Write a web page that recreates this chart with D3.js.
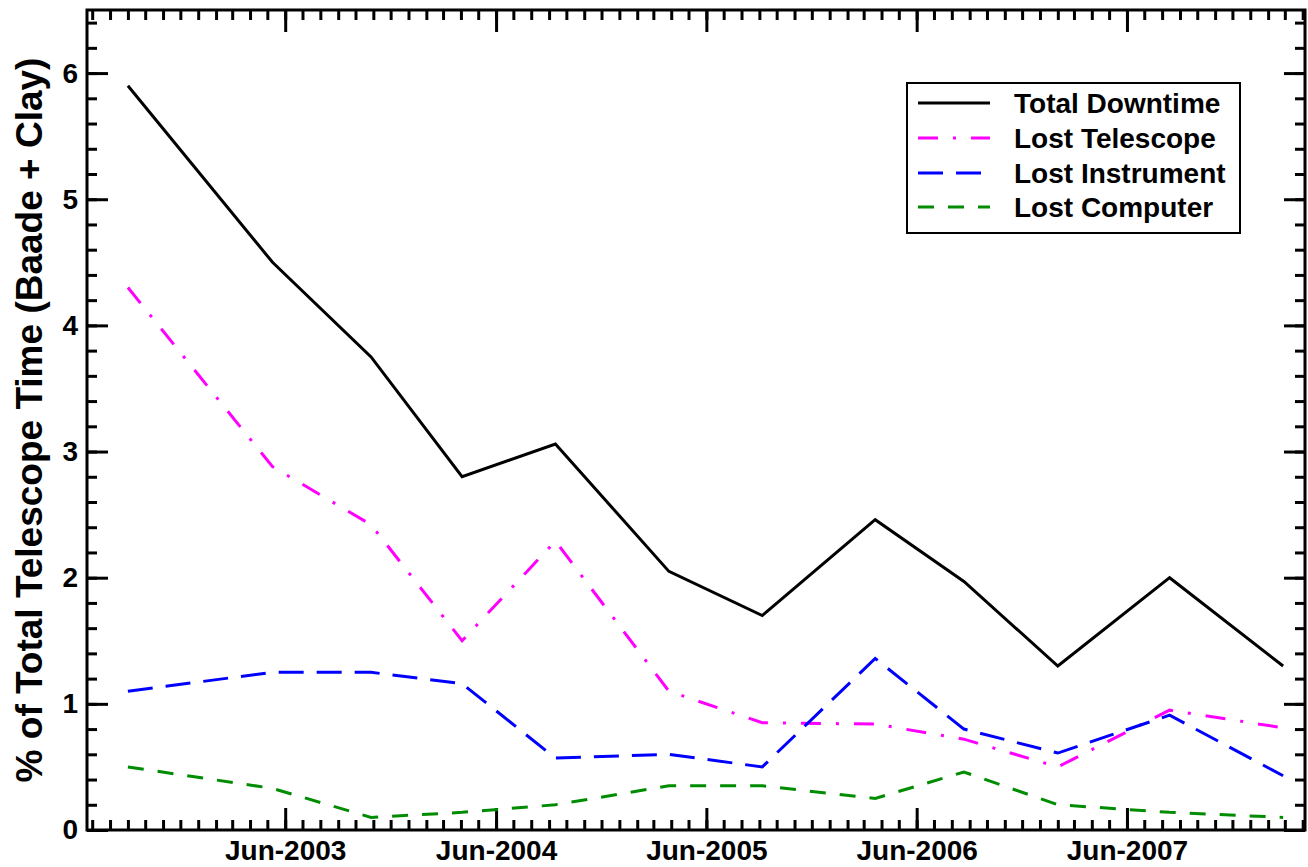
<!DOCTYPE html>
<html>
<head>
<meta charset="utf-8">
<script src="https://cdn.jsdelivr.net/npm/d3@7"></script>
<style>
  html, body { margin: 0; padding: 0; background: #fff; }
  svg { display: block; }
  text { font-family: "Liberation Sans", Arial, Helvetica, sans-serif; font-weight: bold; }
</style>
</head>
<body>
<svg id="chart" width="1308" height="867"></svg>
<script>
// semester points
const dates = ['2002-09-01', '2003-05-10', '2003-10-28', '2004-04-03', '2004-09-12', '2005-03-28',
               '2005-09-06', '2006-03-21', '2006-08-22', '2007-02-01', '2007-08-14', '2008-02-27']
const totalDowntime  = [5.90, 4.50, 3.75, 2.80, 3.06, 2.05, 1.70, 2.46, 1.97, 1.30, 2.00, 1.30]
const lostTelescope  = [4.30, 2.88, 2.42, 1.50, 2.29, 1.10, 0.85, 0.84, 0.72, 0.50, 0.95, 0.81]
const lostInstrument = [1.10, 1.25, 1.25, 1.16, 0.57, 0.60, 0.50, 1.36, 0.80, 0.61, 0.91, 0.43]
const lostComputer   = [0.50, 0.33, 0.10, 0.14, 0.20, 0.35, 0.35, 0.25, 0.46, 0.20, 0.14, 0.10]
const seriesNames = ['Total Downtime', 'Lost Telescope', 'Lost Instrument', 'Lost Computer']
const yTicks = [0, 1, 2, 3, 4, 5, 6]
const xDomain = ['2002-06-22', '2008-04-05']
const yTitle = '% of Total Telescope Time (Baade + Clay)'

const margin = { left: 87, right: 3, top: 10, bottom: 37 }
const size = { width: 1308, height: 867 }
const W = size.width - margin.left - margin.right
const H = size.height - margin.top - margin.bottom

const parse = d3.utcParse('%Y-%m-%d')
const styles = [
    { color: '#000000', dash: null },
    { color: '#ff00ff', dash: '20,15,3,15' },
    { color: '#0000ff', dash: '25,13' },
    { color: '#008c00', dash: '16,14' }
]

const svg = d3.select('#chart')
const g = svg.append('g').attr('transform', `translate(${margin.left},${margin.top})`)

const x = d3.scaleUtc().domain(xDomain.map(parse)).range([0, W])
const y = d3.scaleLinear().domain([0, 6.5]).range([H, 0])

const months = d3.utcMonth.range(x.domain()[0], x.domain()[1])
const junes = months.filter(d => d.getUTCMonth() === 5)
const minorY = d3.range(0, 6.5, 0.2).map(v => +v.toFixed(1))
const fmt = d3.utcFormat('%b-%Y')

function styleAxis(sel) {
    sel.select('.domain').remove()
    sel.selectAll('line').attr('stroke', '#000').attr('stroke-width', 3)
    sel.selectAll('text').attr('fill', '#000').style('font-size', '28px')
}

// bottom
g.append('g').attr('transform', `translate(0,${H})`)
    .call(d3.axisBottom(x).tickValues(months).tickSize(-10).tickFormat(''))
    .call(styleAxis)
g.append('g').attr('transform', `translate(0,${H})`)
    .call(d3.axisBottom(x).tickValues(junes).tickSize(-22).tickPadding(10).tickFormat(fmt))
    .call(styleAxis)
// top
g.append('g')
    .call(d3.axisTop(x).tickValues(months).tickSize(-10).tickFormat(''))
    .call(styleAxis)
g.append('g')
    .call(d3.axisTop(x).tickValues(junes).tickSize(-22).tickFormat(''))
    .call(styleAxis)
// left
g.append('g')
    .call(d3.axisLeft(y).tickValues(minorY).tickSize(-10).tickFormat(''))
    .call(styleAxis)
g.append('g')
    .call(d3.axisLeft(y).tickValues(yTicks).tickSize(-21).tickPadding(9).tickFormat(d3.format('d')))
    .call(styleAxis)
// right
g.append('g').attr('transform', `translate(${W},0)`)
    .call(d3.axisRight(y).tickValues(minorY).tickSize(-10).tickFormat(''))
    .call(styleAxis)
g.append('g').attr('transform', `translate(${W},0)`)
    .call(d3.axisRight(y).tickValues(yTicks).tickSize(-21).tickFormat(''))
    .call(styleAxis)

g.append('rect')
    .attr('width', W).attr('height', H)
    .attr('fill', 'none').attr('stroke', '#000').attr('stroke-width', 3)

// lines
const series = [totalDowntime, lostTelescope, lostInstrument, lostComputer].map((vals, i) => ({
    name: seriesNames[i],
    style: styles[i],
    values: vals.map((v, j) => ({ date: parse(dates[j]), v: v }))
}))

const line = d3.line().x(d => x(d.date)).y(d => y(d.v))

g.selectAll('path.series')
    .data(series)
    .enter()
    .append('path')
    .attr('class', 'series')
    .attr('d', d => line(d.values))
    .attr('fill', 'none')
    .attr('stroke', d => d.style.color)
    .attr('stroke-width', 3)
    .attr('stroke-dasharray', d => d.style.dash)

// y title
svg.append('text')
    .attr('transform', `translate(42,${margin.top + H / 2}) rotate(-90)`)
    .attr('text-anchor', 'middle')
    .style('font-size', '37px')
    .text(yTitle)

// legend
const legend = svg.append('g').attr('transform', 'translate(907,83)')
legend.append('rect')
    .attr('width', 333).attr('height', 150)
    .attr('fill', '#fff').attr('stroke', '#000').attr('stroke-width', 2)

const rowY = [20, 55, 90, 124]
const items = legend.selectAll('g.item')
    .data(series)
    .enter()
    .append('g')
    .attr('class', 'item')
    .attr('transform', (d, i) => `translate(0,${rowY[i]})`)

items.append('line')
    .attr('x1', 11).attr('x2', 83)
    .attr('stroke', d => d.style.color)
    .attr('stroke-width', 3)
    .attr('stroke-dasharray', d => d.style.dash)

items.append('text')
    .attr('x', 107)
    .attr('dy', '0.36em')
    .style('font-size', '28px')
    .text(d => d.name)
</script>
</body>
</html>
